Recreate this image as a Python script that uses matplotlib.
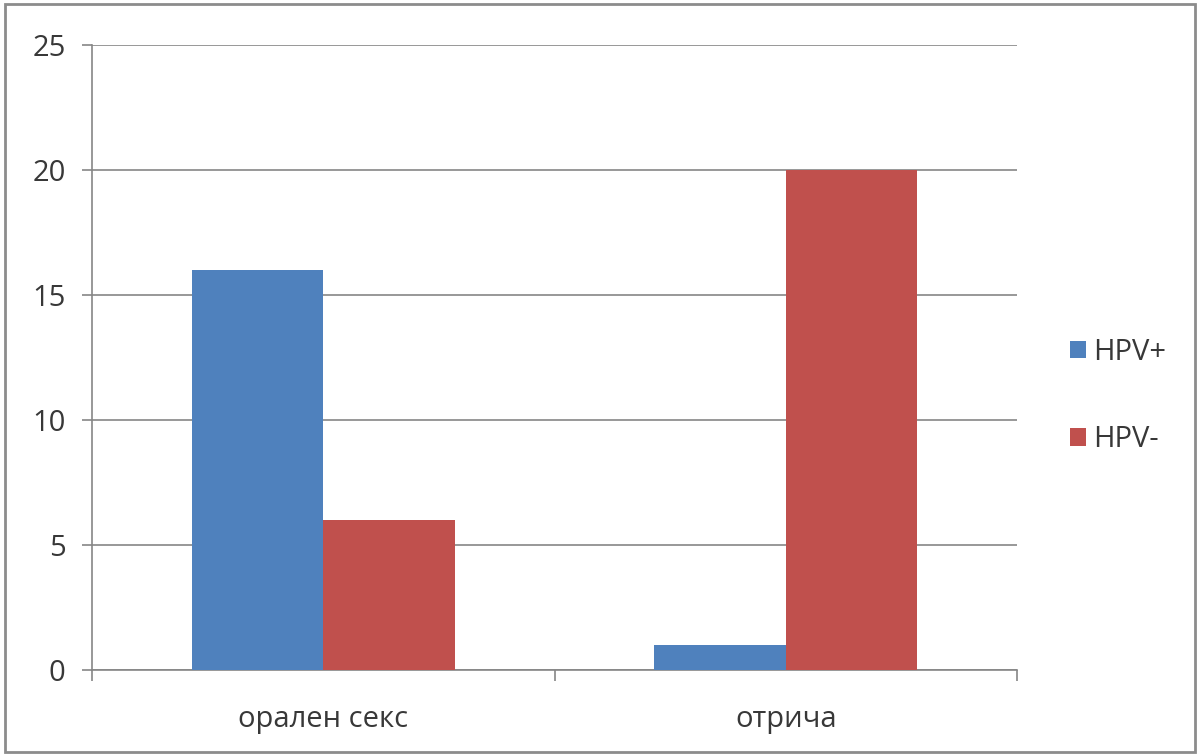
import matplotlib
matplotlib.use("Agg")
import matplotlib.pyplot as plt
from matplotlib.patches import Rectangle
import numpy as np

categories = ["орален секс", "отрича"]
series_names = ["HPV+", "HPV-"]
hpv_pos = [16, 1]
hpv_neg = [6, 20]
y_ticks = [0, 5, 10, 15, 20, 25]

colors = ["#4F81BD", "#C0504D"]
grid_color = "#868686"
text_color = "#383838"

plt.rcParams["font.family"] = ["Open Sans", "DejaVu Sans"]

fig = plt.figure(figsize=(12, 7.56), dpi=100)
ax = fig.add_axes([92 / 1200, 1 - 670 / 756, (1017 - 92) / 1200, (670 - 45) / 756])

x = np.arange(len(categories))
width = 0.284
ax.bar(x - width / 2, hpv_pos, width, color=colors[0], label=series_names[0], zorder=3)
ax.bar(x + width / 2, hpv_neg, width, color=colors[1], label=series_names[1], zorder=3)

ax.set_xlim(-0.5, len(categories) - 0.5)
ax.set_ylim(0, 25)
ax.set_yticks(y_ticks)
ax.set_yticklabels([str(v) for v in y_ticks], fontsize=21, color=text_color)
ax.grid(axis="y", color=grid_color, linewidth=1.2, zorder=0)

# category labels centred, tick marks on category boundaries
ax.set_xticks(x)
ax.set_xticklabels(categories, fontsize=21, color=text_color)
ax.tick_params(axis="x", length=0, pad=25)
ax.set_xticks(np.arange(-0.5, len(categories)), minor=True)
ax.tick_params(axis="x", which="minor", length=8, width=1.2, color=grid_color)
ax.tick_params(axis="y", length=7, width=1.2, color=grid_color, pad=12)

for side in ["top", "right"]:
    ax.spines[side].set_visible(False)
for side in ["left", "bottom"]:
    ax.spines[side].set_color(grid_color)
    ax.spines[side].set_linewidth(1.2)

leg = fig.legend(loc="center left", bbox_to_anchor=(1044 / 1200, 1 - 396 / 756),
                 frameon=False, fontsize=21, handlelength=0.55, handleheight=0.55,
                 labelspacing=2.0, handletextpad=0.22, labelcolor=text_color)

# outer frame around the whole figure
fig.patches.append(Rectangle((5 / 1200, 4 / 756), 1190 / 1200, 748 / 756,
                             transform=fig.transFigure, fill=False,
                             edgecolor="#8c8c8c", linewidth=2))

fig.savefig("out.png", dpi=100, facecolor="white")
